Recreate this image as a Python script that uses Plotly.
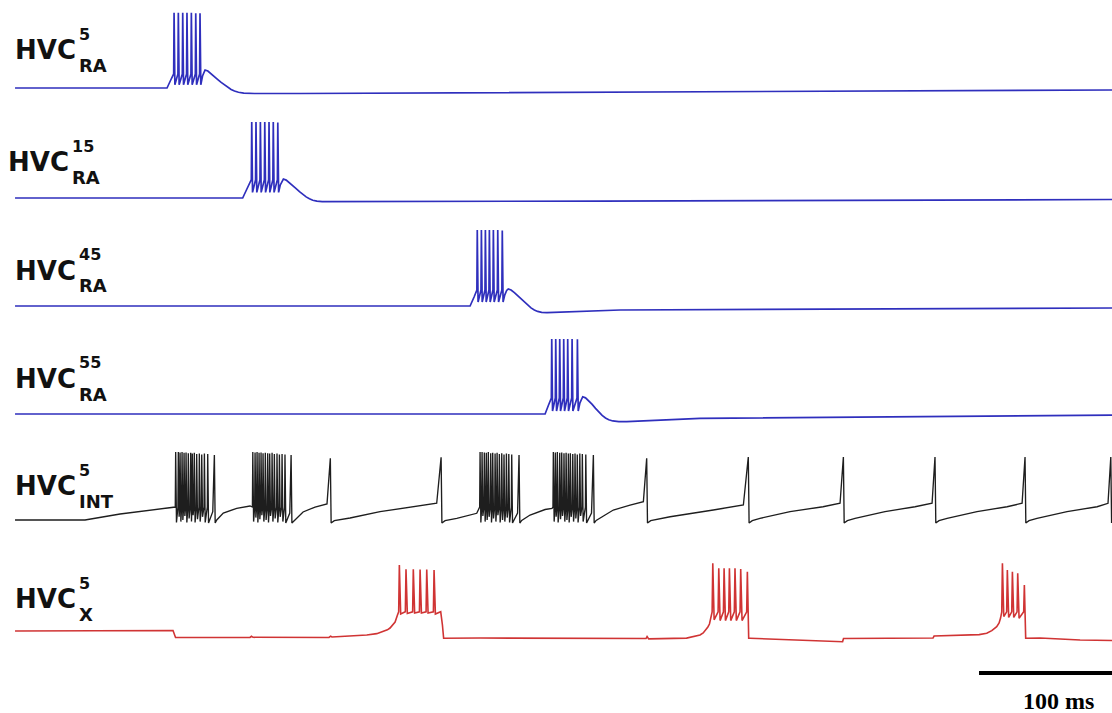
import plotly.graph_objects as go

# ---------------- data (time in ms, membrane potential in mV) ----------------
# HVC_RA neuron 5
ra5_key_t = [0, 114.3, 117.8, 141.0, 142.0, 142.9, 145.0, 147.5, 150.0, 152.5, 155.0, 157.5, 160.0,
             162.5, 165.0, 168.0, 172.0, 180.0, 214.3, 439.9, 824.9]
ra5_key_v = [-70, -70, -57.5, -55.0, -49.5, -47.5, -48.8, -52.0, -55.5, -59.5, -63.0, -66.3, -69.3,
             -71.8, -73.8, -75.3, -76.3, -76.9, -76.9, -75.0, -72.5]
ra5_spk_t = [119.6, 122.8, 126.1, 129.3, 132.6, 135.9, 139.1]
ra5_spk_peak = [24, 24, 24, 24, 24, 23.5, 23.5]
ra5_spk_trough = [-66, -66, -66, -66, -66, -66, -66]

# HVC_RA neuron 15
ra15_key_t = [0, 171.2, 174.0, 199.4, 200.7, 201.8, 203.9, 206.4, 208.9, 211.4, 213.9, 216.4, 218.9,
              221.4, 223.9, 227.0, 231.0, 440.0, 824.9]
ra15_key_v = [-70, -70, -60.0, -54.0, -48.5, -46.3, -47.6, -50.8, -54.3, -58.3, -62.0, -65.5, -68.6,
              -71.0, -72.8, -74.0, -74.6, -73.8, -71.9]
ra15_spk_t = [178.0, 181.2, 184.5, 187.8, 191.0, 194.2, 197.6]
ra15_spk_peak = [25, 25, 25, 25, 25, 25, 24.5]
ra15_spk_trough = [-63, -63, -63, -63, -63, -63, -63]

# HVC_RA neuron 45
ra45_key_t = [0, 342.2, 345.2, 368.3, 369.7, 370.9, 373.0, 375.5, 378.0, 380.5, 383.0, 385.5, 388.0,
              390.5, 393.0, 396.0, 400.0, 455.0, 824.9]
ra45_key_v = [-70, -70, -58.8, -56.0, -50.5, -48.8, -50.0, -53.3, -57.0, -61.2, -65.2, -69.0, -72.4,
              -75.0, -76.8, -77.9, -78.4, -75.0, -72.5]
ra45_spk_t = [347.6, 350.7, 353.7, 356.7, 359.7, 363.0, 366.4]
ra45_spk_peak = [25, 25, 25, 25, 25, 25, 24.5]
ra45_spk_trough = [-65, -65, -65, -65, -65, -65, -65]

# HVC_RA neuron 55
ra55_key_t = [0, 398.6, 401.2, 424.8, 425.9, 426.9, 429.0, 431.5, 434.0, 436.5, 439.0, 441.5, 444.0,
              446.5, 449.5, 454.0, 460.0, 515.1, 824.9]
ra55_key_v = [-70, -70, -58.8, -56.0, -50.5, -48.4, -49.8, -53.5, -58.0, -63.0, -67.7, -71.8, -75.0,
              -77.2, -78.7, -79.5, -79.6, -75.4, -71.3]
ra55_spk_t = [403.6, 406.6, 409.6, 412.6, 415.6, 418.9, 422.9]
ra55_spk_peak = [23.8, 23.8, 23.8, 23.8, 23.8, 23.8, 23.5]
ra55_spk_trough = [-66.3, -66.3, -66.3, -66.3, -66.3, -66.3, -66.3]

# HVC_INT neuron 5: slow membrane trajectory between spikes
int_key_t = [0, 52.6, 79.0, 101.5, 119.6,
             148.7,
             151.7, 156.6, 166.7, 176.7,
             206.6,
             209.8, 211.8, 216.6, 225.6, 234.6,
             240.1, 251.9, 274.5, 299.3, 317.1,
             323.4, 332.2, 347.2,
             377.9,
             381.0, 387.3, 398.6, 403.8,
             433.5,
             437.0, 442.5, 449.9, 462.5, 472.5,
             478.0, 492.6, 525.1, 547.7,
             554.4, 560.2, 582.8, 607.6, 620.4,
             625.9, 631.7, 654.2, 676.8, 689.6,
             694.8, 700.9, 723.4, 746.0, 757.3,
             762.5, 768.5, 791.1, 813.7, 821.9]
int_key_v = [-70, -70, -62.5, -57.5, -53.8,
             -59.6,
             -70.0, -61.3, -55.4, -52.5,
             -61.3,
             -71.0, -67.5, -60.0, -53.8, -50.0,
             -70.8, -67.5, -59.6, -53.4, -49.1,
             -70.8, -67.9, -61.6,
             -61.3,
             -70.5, -63.8, -56.9, -55.6,
             -61.3,
             -70.5, -65.0, -57.5, -51.3, -47.1,
             -70.8, -65.9, -57.5, -51.3,
             -70.8, -67.9, -59.6, -53.4, -49.1,
             -70.8, -67.9, -59.6, -53.4, -49.1,
             -70.8, -67.9, -59.6, -53.4, -49.1,
             -70.8, -67.9, -59.6, -53.4, -49.1]

# HVC_INT high-frequency bursts
int_burst_t = [120.8, 122.8, 124.1, 125.6, 127.1, 128.6, 130.3, 132.1, 133.3, 134.8, 136.6, 138.6, 140.4, 142.4, 144.9,
               178.8, 180.5, 182.0, 183.5, 185.0, 186.5, 188.2, 190.0, 191.5, 193.3, 195.0, 197.0, 198.8, 200.8, 203.0,
               349.7, 351.2, 352.9, 354.4, 355.9, 357.7, 359.2, 361.0, 362.5, 364.2, 366.0, 367.7, 369.5, 371.3, 373.5,
               404.8, 406.3, 407.8, 409.6, 411.1, 412.8, 414.4, 416.1, 417.6, 419.4, 421.1, 422.8, 424.7, 426.6, 429.2]
int_burst_peak = [15, 15, 14.5, 15, 14, 14.5, 13.5, 14, 13, 14, 12.5, 13, 12, 13, 12.5,
                  15, 14.5, 15, 14, 14.5, 13.5, 14, 13.5, 13, 14, 12.5, 13, 12, 12.5, 12,
                  15, 15, 14.5, 14, 15, 13.5, 14, 13, 14, 12.5, 13.5, 12, 13, 12.5, 12,
                  15, 14.5, 15, 14, 14.5, 13.5, 14, 13, 13.5, 12.5, 13, 12, 13, 12.5, 12]
int_burst_trough = [-73, -66, -72, -70, -65, -73, -68, -72, -64, -73, -69, -72, -66, -73, -73.8,
                    -72, -67, -73, -69, -64, -72, -70, -73, -65, -72, -68, -73, -66, -72, -73.8,
                    -73, -65, -72, -70, -66, -73, -68, -72, -64, -73, -70, -72, -67, -73, -73.8,
                    -72, -66, -73, -69, -65, -72, -70, -73, -66, -72, -68, -73, -65, -72, -73.8]

# HVC_INT isolated spikes
int_single_t = [149.9, 207.6, 237.1, 320.4, 379.0, 434.9, 475.0, 551.4, 622.9, 691.8, 759.5, 824.0]
int_single_peak = [11.3, 11.3, 7.1, 8.4, 11.3, 11.3, 7.1, 8.8, 8.8, 8.8, 8.8, 8.8]
int_single_trough = [-73.8] * 12

# HVC_X neuron 5
x_key_t = [0, 118.8, 120.7, 176.7, 177.8, 179.0, 236.1, 237.3, 238.4, 264.5, 272.0, 277.0, 280.0, 282.0,
           284.0, 285.8, 287.6,
           318.5, 320.1, 321.4, 322.3,
           349.7, 439.9, 474.5, 475.3, 476.5, 505.0, 512.0, 515.1, 517.5, 519.4, 521.0, 522.2,
           552.7, 590.3, 622.3, 623.0, 690.3, 691.1, 725.0, 730.7, 734.5, 738.2, 740.0, 741.1,
           770.8, 800.9, 824.9]
x_key_v = [-70, -69.4, -78.1, -78.1, -76.6, -77.9, -78.1, -76.5, -77.5, -75.0, -73.3, -70.9, -68.5, -66.3,
           -63.0, -58.8, -50.0,
           -47.0, -45.9, -62.5, -79.1,
           -78.8, -79.4, -79.4, -76.9, -79.8, -78.9, -76.8, -75.0, -72.5, -68.8, -65.0, -61.3,
           -79.1, -81.3, -83.4, -79.4, -78.8, -76.3, -74.5, -72.9, -69.5, -64.6, -60.0, -53.8,
           -78.8, -81.3, -81.9]
x_spk_t = [289.0, 294.0, 299.5, 304.6, 309.6, 315.1,
           524.7, 529.2, 533.2, 537.2, 541.4, 545.7, 550.7,
           742.5, 746.2, 750.0, 754.0, 759.0]
x_spk_peak = [12.5, 7.1, 7.1, 6.9, 6.9, 6.3,
              14.6, 8.4, 8.4, 8.4, 8.4, 7.5, 4.1,
              14.6, 6.3, 4.1, 2.1, -12.5]
x_spk_trough = [-48.8, -48.0, -47.5, -47.5, -47.5, -48.8,
                -56, -57, -57, -57, -57, -57, -79.1,
                -52, -53, -53, -54, -79.1]

label_sup = ["5", "15", "45", "55", "5", "5"]
label_sub = ["RA", "RA", "RA", "RA", "INT", "X"]
scale_bar_ms = 100
scale_bar_end = 824.9


def build(key_t, key_v, spk_t, spk_peak, spk_trough, pre_v=None, rise=0.3, fall=0.6):
    """Merge the slow trajectory with spike up/down strokes into one polyline."""
    pts = list(zip(key_t, key_v))
    for t, p, tr in zip(spk_t, spk_peak, spk_trough):
        if pre_v is not None:
            pts.append((t - rise, pre_v))
        pts.append((t, p))
        pts.append((t + fall, tr))
    pts.sort(key=lambda q: q[0])
    return [q[0] for q in pts], [q[1] for q in pts]


BLUE = "#2f2fbd"
BLACK = "#1e1e1e"
RED = "#d03434"

ra5 = build(ra5_key_t, ra5_key_v, ra5_spk_t, ra5_spk_peak, ra5_spk_trough, -52.5)
ra15 = build(ra15_key_t, ra15_key_v, ra15_spk_t, ra15_spk_peak, ra15_spk_trough, -47.0)
ra45 = build(ra45_key_t, ra45_key_v, ra45_spk_t, ra45_spk_peak, ra45_spk_trough, -50.0)
ra55 = build(ra55_key_t, ra55_key_v, ra55_spk_t, ra55_spk_peak, ra55_spk_trough, -50.0)

# interneuron: bursts (with inter-spike rise) + isolated spikes
it, iv = build([], [], int_burst_t, int_burst_peak, int_burst_trough, -53.8)
st, sv = build(int_key_t, int_key_v, int_single_t, int_single_peak, int_single_trough)
merged = sorted(zip(it + st, iv + sv), key=lambda q: q[0])
intn = ([q[0] for q in merged], [q[1] for q in merged])

xn = build(x_key_t, x_key_v, x_spk_t, x_spk_peak, x_spk_trough, -46.0, rise=0.5, fall=1.0)

W, H = 1112, 713
PX_PER_MV = 0.8
# (trace, colour, line width, resting-level pixel row, mV range)
rows = [
    (ra5, BLUE, 1.7, 88, (-85, 40)),
    (ra15, BLUE, 1.7, 198, (-85, 40)),
    (ra45, BLUE, 1.7, 306, (-85, 40)),
    (ra55, BLUE, 1.7, 414, (-85, 40)),
    (intn, BLACK, 1.35, 520, (-85, 40)),
    (xn, RED, 1.6, 631, (-90, 40)),
]

fig = go.Figure()
layout_axes = {}
for i, (tr, col, lw, base, (lo, hi)) in enumerate(rows):
    name = "y" if i == 0 else f"y{i + 1}"
    key = "yaxis" if i == 0 else f"yaxis{i + 1}"
    top_px = base - (hi + 70) * PX_PER_MV
    bot_px = base + (-70 - lo) * PX_PER_MV
    layout_axes[key] = dict(domain=[1 - bot_px / H, 1 - top_px / H], range=[lo, hi],
                            visible=False, fixedrange=True)
    fig.add_trace(go.Scatter(x=tr[0], y=tr[1], mode="lines", yaxis=name, xaxis="x",
                             line=dict(color=col, width=lw), hoverinfo="skip",
                             showlegend=False))

fig.update_layout(
    width=W, height=H,
    margin=dict(l=0, r=0, t=0, b=0),
    paper_bgcolor="white", plot_bgcolor="white",
    xaxis=dict(range=[-11.3, 824.9], visible=False, fixedrange=True),
    showlegend=False,
    **layout_axes,
)

# neuron labels: HVC with stacked index (sup) and class (sub)
label_pos = [  # (HVC left px, HVC centre y px, index left px)
    (13, 50, 77),
    (6, 162, 70),
    (13, 271, 77),
    (13, 379, 77),
    (13, 486, 77),
    (13, 599, 77),
]
LABEL_FONT = "DejaVu Sans"
for (lx, ly, sx), sup, sub in zip(label_pos, label_sup, label_sub):
    fig.add_annotation(x=lx / W, y=1 - ly / H, xref="paper", yref="paper", text="<b>HVC</b>",
                       showarrow=False, xanchor="left", yanchor="middle",
                       font=dict(family=LABEL_FONT, size=26, color="#111111"))
    fig.add_annotation(x=sx / W, y=1 - (ly - 16) / H, xref="paper", yref="paper", text=f"<b>{sup}</b>",
                       showarrow=False, xanchor="left", yanchor="middle",
                       font=dict(family=LABEL_FONT, size=16, color="#111111"))
    fig.add_annotation(x=sx / W, y=1 - (ly + 15) / H, xref="paper", yref="paper", text=f"<b>{sub}</b>",
                       showarrow=False, xanchor="left", yanchor="middle",
                       font=dict(family=LABEL_FONT, size=18, color="#111111"))

# 100 ms scale bar
fig.add_shape(type="line", xref="x", yref="paper",
              x0=scale_bar_end - scale_bar_ms, x1=scale_bar_end,
              y0=1 - 673 / H, y1=1 - 673 / H, line=dict(color="black", width=4))
fig.add_annotation(x=1058 / W, y=1 - 701 / H, xref="paper", yref="paper", text="<b>100 ms</b>",
                   showarrow=False, xanchor="center", yanchor="middle",
                   font=dict(family="Liberation Serif", size=24, color="black"))

fig.write_html("out.html")
